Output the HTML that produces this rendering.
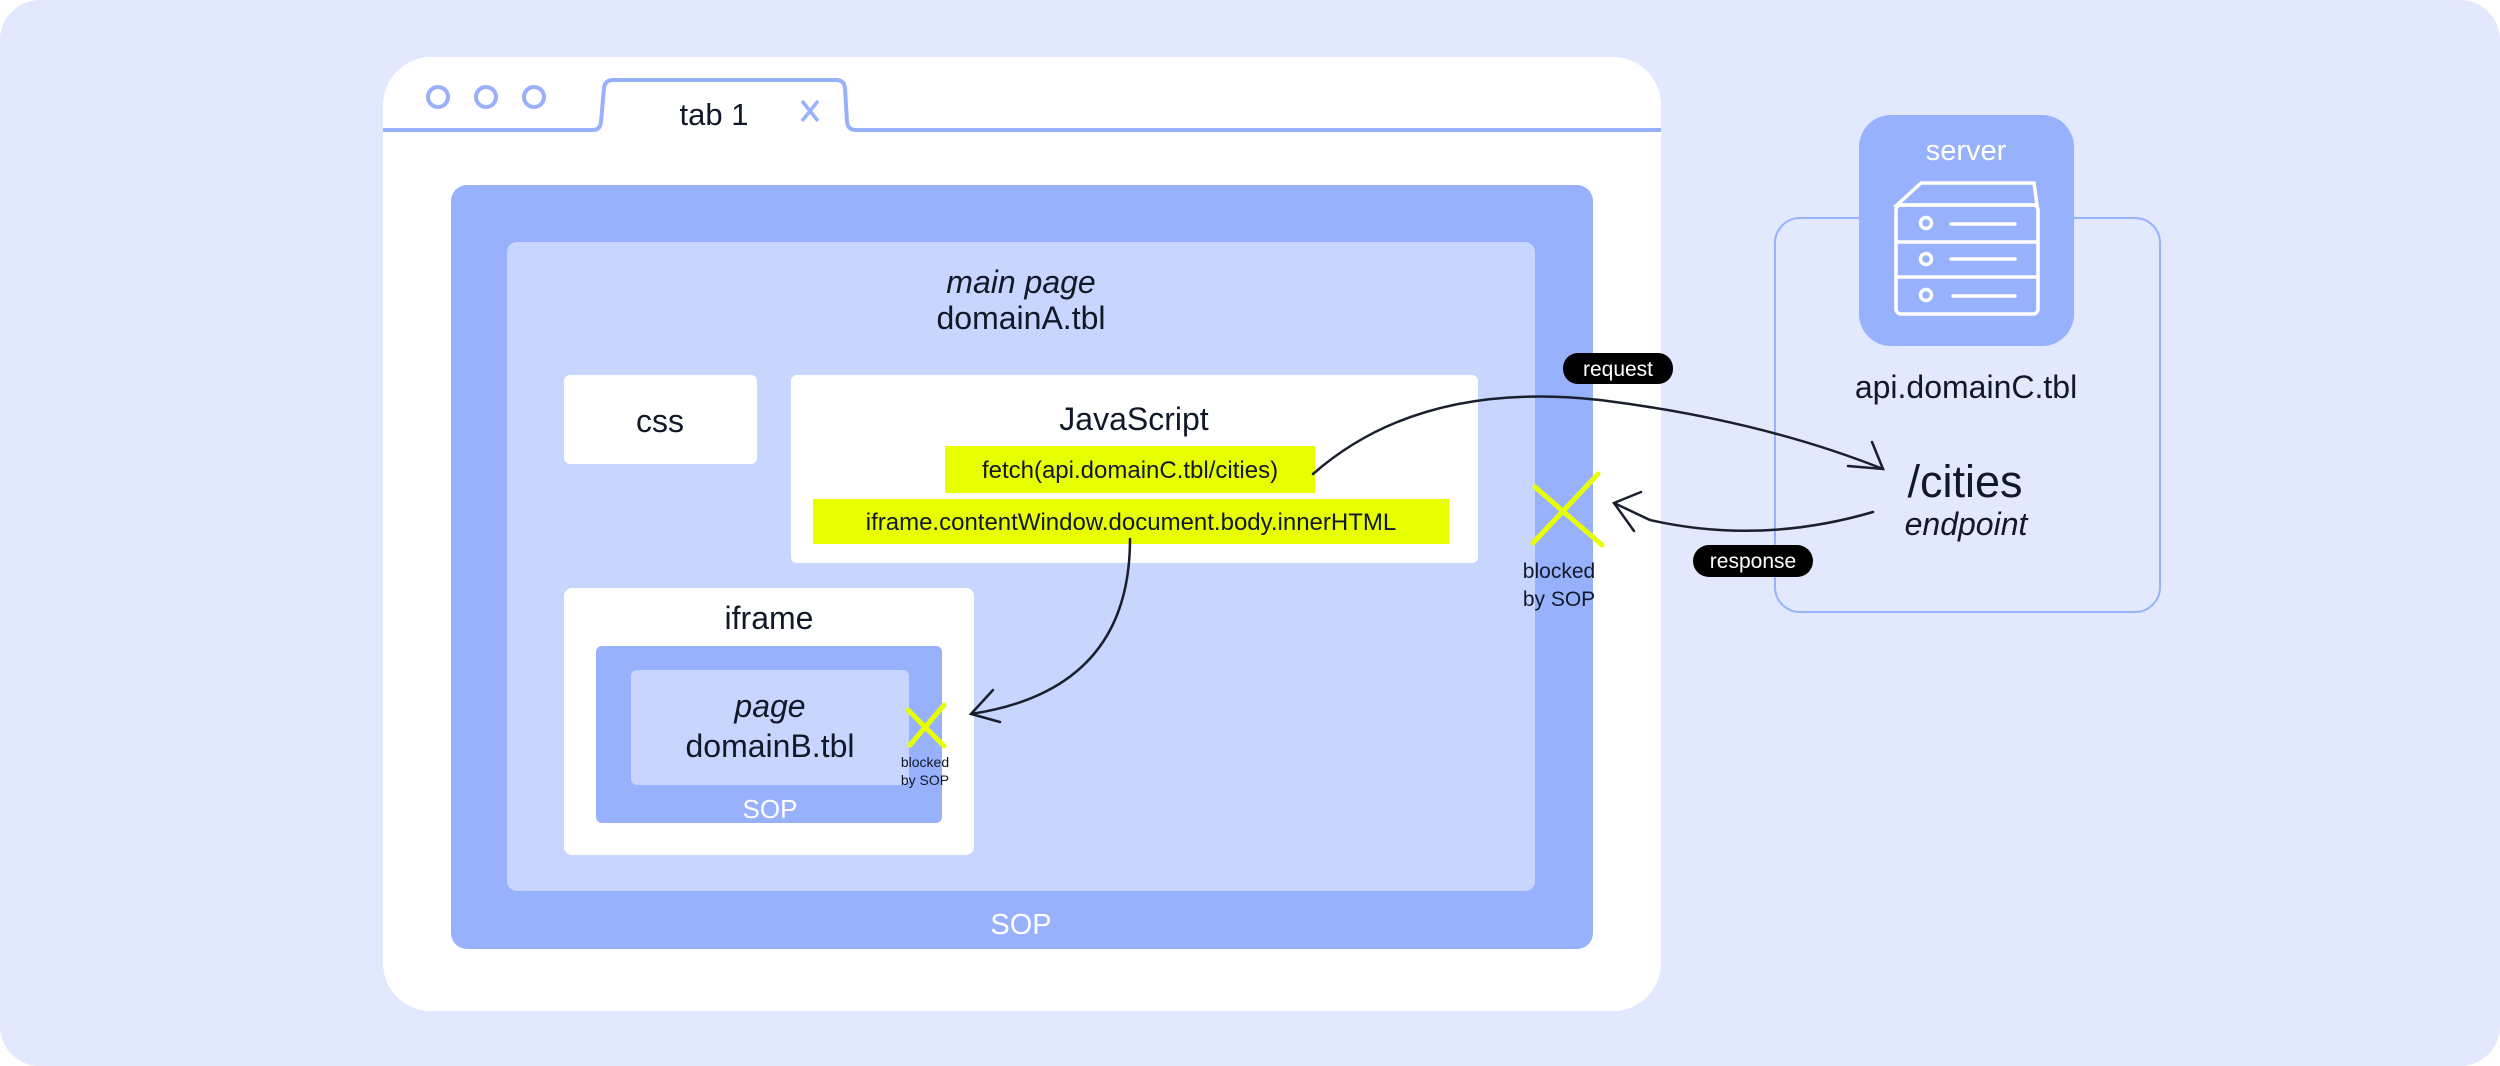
<!DOCTYPE html>
<html><head><meta charset="utf-8"><style>
html,body{margin:0;padding:0;background:#fff}
body{width:2500px;height:1066px;overflow:hidden}
svg{display:block}
text{font-family:"Liberation Sans",sans-serif;fill:#111827}
</style></head><body>
<svg width="2500" height="1066" viewBox="0 0 2500 1066" xmlns="http://www.w3.org/2000/svg">
<rect x="0" y="0" width="2500" height="1066" rx="40" fill="#e2e8fd"/>
<!-- browser -->
<rect x="383" y="57" width="1278" height="954" rx="48" fill="#fff"/>
<g fill="none" stroke="#98b1fc" stroke-width="4">
<circle cx="438" cy="97" r="10"/><circle cx="486" cy="97" r="10"/><circle cx="534" cy="97" r="10"/>
<path d="M383 130 L593 130 Q600 130 601 122 L604 88 Q605 80 613 80 L836 80 Q844 80 845 88 L847 122 Q848 130 856 130 L1661 130"/>
<path d="M802 101 L818 121 M818 101 L802 121" stroke-width="3.5"/>
</g>
<text x="714" y="125" font-size="31" text-anchor="middle">tab 1</text>
<!-- SOP outer -->
<rect x="451" y="185" width="1142" height="764" rx="16" fill="#98b1fc"/>
<rect x="507" y="242" width="1028" height="649" rx="10" fill="#c8d5fe"/>
<text x="1021" y="293" font-size="32" font-style="italic" text-anchor="middle">main page</text>
<text x="1021" y="329" font-size="32" text-anchor="middle">domainA.tbl</text>
<text x="1021" y="934" font-size="29" style="fill:#fff" text-anchor="middle">SOP</text>
<rect x="564" y="375" width="193" height="89" rx="6" fill="#fff"/>
<text x="660" y="432" font-size="32" text-anchor="middle">css</text>
<rect x="791" y="375" width="687" height="188" rx="6" fill="#fff"/>
<text x="1134" y="430" font-size="32" text-anchor="middle">JavaScript</text>
<rect x="945" y="446" width="370" height="47" fill="#e8ff00"/>
<text x="1130" y="478" font-size="24" text-anchor="middle">fetch(api.domainC.tbl/cities)</text>
<rect x="813" y="499" width="636" height="45" fill="#e8ff00"/>
<text x="1131" y="530" font-size="24" text-anchor="middle">iframe.contentWindow.document.body.innerHTML</text>
<!-- iframe -->
<rect x="564" y="588" width="410" height="267" rx="8" fill="#fff"/>
<text x="769" y="629" font-size="32" text-anchor="middle">iframe</text>
<rect x="596" y="646" width="346" height="177" rx="6" fill="#98b1fc"/>
<rect x="631" y="670" width="278" height="115" rx="6" fill="#c8d5fe"/>
<text x="770" y="717" font-size="32" font-style="italic" text-anchor="middle">page</text>
<text x="770" y="757" font-size="32" text-anchor="middle">domainB.tbl</text>
<text x="770" y="818" font-size="26" style="fill:#fff" text-anchor="middle">SOP</text>
<g stroke="#e8ff00" stroke-width="5" stroke-linecap="round" fill="none">
<path d="M908 710 L944 746 M944 705 L910 745"/>
<path d="M1535 487 L1602 545 M1598 474 L1533 543"/>
</g>
<text x="925" y="767" font-size="14" text-anchor="middle">blocked</text>
<text x="925" y="785" font-size="14" text-anchor="middle">by SOP</text>
<text x="1559" y="578" font-size="21" text-anchor="middle">blocked</text>
<text x="1559" y="606" font-size="21" text-anchor="middle">by SOP</text>
<!-- server -->
<rect x="1775" y="218" width="385" height="394" rx="25" fill="none" stroke="#98b1fc" stroke-width="2"/>
<rect x="1859" y="115" width="215" height="231" rx="32" fill="#98b1fc"/>
<text x="1966" y="160" font-size="29" style="fill:#fff" text-anchor="middle">server</text>
<g fill="none" stroke="#fff" stroke-width="3.5" stroke-linecap="round">
<path d="M1921 183 L2034 183 L2037 205 L1897 205 Z"/>
<rect x="1896" y="205" width="142" height="109" rx="5"/>
<path d="M1896 242 L2038 242 M1896 277 L2038 277"/>
<circle cx="1926" cy="223" r="5.5"/><circle cx="1926" cy="259" r="5.5"/><circle cx="1926" cy="295" r="5.5"/>
<path d="M1951 224 L2015 224 M1951 259 L2015 259 M1953 296 L2015 296"/>
</g>
<text x="1966" y="398" font-size="32" text-anchor="middle">api.domainC.tbl</text>
<text x="1965" y="497" font-size="45" text-anchor="middle">/cities</text>
<text x="1966" y="535" font-size="32" font-style="italic" text-anchor="middle">endpoint</text>
<!-- arrows -->
<g fill="none" stroke="#1a1f2e" stroke-width="2.5" stroke-linecap="round">
<path d="M1313 474 Q1420 380 1600 400 Q1760 420 1883 469"/>
<path d="M1848 466 L1883 469 L1872 442"/>
<path d="M1873 512 Q1760 545 1650 520 L1614 503"/>
<path d="M1641 492 L1614 503 L1634 531"/>
<path d="M1130 539 Q1130 690 971 714"/>
<path d="M993 690 L971 714 L1000 722"/>
</g>
<rect x="1563" y="353" width="110" height="31" rx="15" fill="#000"/>
<text x="1618" y="376" font-size="21" style="fill:#fff" text-anchor="middle">request</text>
<rect x="1693" y="545" width="120" height="32" rx="16" fill="#000"/>
<text x="1753" y="568" font-size="21" style="fill:#fff" text-anchor="middle">response</text>
</svg>
</body></html>
